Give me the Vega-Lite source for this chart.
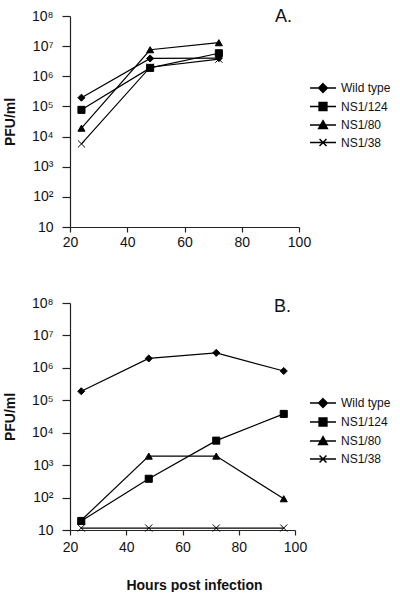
{
  "$schema": "https://vega.github.io/schema/vega-lite/v6.json",
  "background": "white",
  "padding": {"left": 3, "top": 8, "right": 0, "bottom": 0},
  "resolve": {"scale": {"shape": "independent", "color": "independent"}, "legend": {"shape": "independent", "color": "independent"}},
  "config": {
    "font": "Liberation Sans",
    "view": {"stroke": null},
    "concat": {"spacing": 47},
    "axis": {
      "grid": false,
      "domainColor": "#222",
      "tickColor": "#222",
      "domainWidth": 1.2,
      "tickWidth": 1.2,
      "labelColor": "#111",
      "labelFont": "Liberation Sans",
      "labelFontSize": 14,
      "labelFlush": false,
      "titleFont": "Liberation Sans",
      "titleFontSize": 14,
      "titleFontWeight": "bold",
      "titleColor": "#111"
    },
    "legend": {
      "labelFont": "Liberation Sans",
      "labelFontSize": 12,
      "labelColor": "#111"
    },
    "title": {"font": "Liberation Sans", "fontSize": 18, "fontWeight": "normal", "color": "#111"}
  },
  "data": {
    "values": [
      {"panel": "A", "hours": 24, "strain": "Wild type", "pfu": 195000},
      {"panel": "A", "hours": 48, "strain": "Wild type", "pfu": 3900000},
      {"panel": "A", "hours": 72, "strain": "Wild type", "pfu": 4000000},
      {"panel": "A", "hours": 24, "strain": "NS1/124", "pfu": 77000},
      {"panel": "A", "hours": 48, "strain": "NS1/124", "pfu": 1900000},
      {"panel": "A", "hours": 72, "strain": "NS1/124", "pfu": 5800000},
      {"panel": "A", "hours": 24, "strain": "NS1/80", "pfu": 19000},
      {"panel": "A", "hours": 48, "strain": "NS1/80", "pfu": 7600000},
      {"panel": "A", "hours": 72, "strain": "NS1/80", "pfu": 13000000},
      {"panel": "A", "hours": 24, "strain": "NS1/38", "pfu": 5700},
      {"panel": "A", "hours": 48, "strain": "NS1/38", "pfu": 2000000},
      {"panel": "A", "hours": 72, "strain": "NS1/38", "pfu": 3700000},
      {"panel": "B", "hours": 24, "strain": "Wild type", "pfu": 190000},
      {"panel": "B", "hours": 48, "strain": "Wild type", "pfu": 1950000},
      {"panel": "B", "hours": 72, "strain": "Wild type", "pfu": 2900000},
      {"panel": "B", "hours": 96, "strain": "Wild type", "pfu": 800000},
      {"panel": "B", "hours": 24, "strain": "NS1/124", "pfu": 19},
      {"panel": "B", "hours": 48, "strain": "NS1/124", "pfu": 380},
      {"panel": "B", "hours": 72, "strain": "NS1/124", "pfu": 5700},
      {"panel": "B", "hours": 96, "strain": "NS1/124", "pfu": 38000},
      {"panel": "B", "hours": 24, "strain": "NS1/80", "pfu": 20},
      {"panel": "B", "hours": 48, "strain": "NS1/80", "pfu": 1900},
      {"panel": "B", "hours": 72, "strain": "NS1/80", "pfu": 1900},
      {"panel": "B", "hours": 96, "strain": "NS1/80", "pfu": 92},
      {"panel": "B", "hours": 24, "strain": "NS1/38", "pfu": 11.5},
      {"panel": "B", "hours": 48, "strain": "NS1/38", "pfu": 11.5},
      {"panel": "B", "hours": 72, "strain": "NS1/38", "pfu": 11.5},
      {"panel": "B", "hours": 96, "strain": "NS1/38", "pfu": 11.5}
    ]
  },
  "vconcat": [
    {
      "width": 229,
      "height": 211,
      "title": {"text": "A.", "anchor": "end", "frame": "group", "baseline": "alphabetic", "offset": -8, "dx": -7, "dy": 23},
      "transform": [{"filter": "datum.panel === 'A'"}],
      "encoding": {
        "x": {"field": "hours", "type": "quantitative",
          "scale": {"domain": [20, 100], "nice": false, "zero": false},
          "axis": {"values": [20, 40, 60, 80, 100], "title": null, "tickSize": 5, "labelPadding": 3}},
        "y": {"field": "pfu", "type": "quantitative",
          "scale": {"type": "log", "domain": [10, 100000000], "nice": false},
          "axis": {"values": [10, 100, 1000, 10000, 100000, 1000000, 10000000, 100000000],
            "labelExpr": "datum.value < 20 ? '10' : '10' + ['', '', '²', '³', '⁴', '⁵', '⁶', '⁷', '⁸'][round(log(datum.value) / LN10)]",
            "title": "PFU/ml", "tickSize": 8, "labelPadding": 9, "titlePadding": 14}}
      },
      "layer": [
        {"mark": {"type": "line", "color": "black", "strokeWidth": 1.2},
          "encoding": {"detail": {"field": "strain", "type": "nominal"}}},
        {"mark": {"type": "point", "filled": true, "stroke": "black", "strokeWidth": 1, "size": 50, "opacity": 1},
          "encoding": {
            "shape": {"field": "strain", "type": "nominal", "legend": null,
              "scale": {"domain": ["NS1/38", "NS1/80", "NS1/124", "Wild type"], "range": ["M-1,-1L1,1M-1,1L1,-1", "triangle-up", "square", "diamond"]}},
            "color": {"field": "strain", "type": "nominal",
              "scale": {"domain": ["Wild type", "NS1/124", "NS1/80", "NS1/38"], "range": ["black", "black", "black", "black"]},
              "legend": {"title": null, "orient": "none", "legendX": 247, "legendY": 66, "padding": 0,
                "symbolSize": 75, "labelOffset": 12, "rowPadding": 3.5, "symbolOpacity": 1,
                "symbolType": {"expr": "datum.value === 'Wild type' ? 'M-3,0H3M0,-1L1,0L0,1L-1,0Z' : datum.value === 'NS1/124' ? 'M-3,0H3M-0.9,-0.9H0.9V0.9H-0.9Z' : datum.value === 'NS1/80' ? 'M-3,0H3M0,-1L1,0.8L-1,0.8Z' : 'M-3,0H3M-0.8,-0.8L0.8,0.8M-0.8,0.8L0.8,-0.8'"},
                "encode": {"symbols": {
                  "stroke": {"value": "black"},
                  "strokeWidth": {"value": 1.2}}}}}
          }
        }
      ]
    },
    {
      "width": 225,
      "height": 227,
      "title": {"text": "B.", "anchor": "end", "frame": "group", "baseline": "alphabetic", "offset": -7, "dx": -4, "dy": 27},
      "transform": [{"filter": "datum.panel === 'B'"}],
      "encoding": {
        "x": {"field": "hours", "type": "quantitative",
          "scale": {"domain": [20, 100], "nice": false, "zero": false},
          "axis": {"values": [20, 40, 60, 80, 100], "title": "Hours post infection", "tickSize": 5, "labelPadding": 5, "titlePadding": 24, "titleX": 124}},
        "y": {"field": "pfu", "type": "quantitative",
          "scale": {"type": "log", "domain": [10, 100000000], "nice": false},
          "axis": {"values": [10, 100, 1000, 10000, 100000, 1000000, 10000000, 100000000],
            "labelExpr": "datum.value < 20 ? '10' : '10' + ['', '', '²', '³', '⁴', '⁵', '⁶', '⁷', '⁸'][round(log(datum.value) / LN10)]",
            "title": "PFU/ml", "tickSize": 8, "labelPadding": 9, "titlePadding": 14}}
      },
      "layer": [
        {"mark": {"type": "line", "color": "black", "strokeWidth": 1.2},
          "encoding": {"detail": {"field": "strain", "type": "nominal"}}},
        {"mark": {"type": "point", "filled": true, "stroke": "black", "strokeWidth": 1, "size": 50, "opacity": 1},
          "encoding": {
            "shape": {"field": "strain", "type": "nominal", "legend": null,
              "scale": {"domain": ["NS1/38", "NS1/80", "NS1/124", "Wild type"], "range": ["M-1,-1L1,1M-1,1L1,-1", "triangle-up", "square", "diamond"]}},
            "color": {"field": "strain", "type": "nominal",
              "scale": {"domain": ["Wild type", "NS1/124", "NS1/80", "NS1/38"], "range": ["black", "black", "black", "black"]},
              "legend": {"title": null, "orient": "none", "legendX": 247, "legendY": 94, "padding": 0,
                "symbolSize": 75, "labelOffset": 12, "rowPadding": 4, "symbolOpacity": 1,
                "symbolType": {"expr": "datum.value === 'Wild type' ? 'M-3,0H3M0,-1L1,0L0,1L-1,0Z' : datum.value === 'NS1/124' ? 'M-3,0H3M-0.9,-0.9H0.9V0.9H-0.9Z' : datum.value === 'NS1/80' ? 'M-3,0H3M0,-1L1,0.8L-1,0.8Z' : 'M-3,0H3M-0.8,-0.8L0.8,0.8M-0.8,0.8L0.8,-0.8'"},
                "encode": {"symbols": {
                  "stroke": {"value": "black"},
                  "strokeWidth": {"value": 1.2}}}}}
          }
        }
      ]
    }
  ]
}
